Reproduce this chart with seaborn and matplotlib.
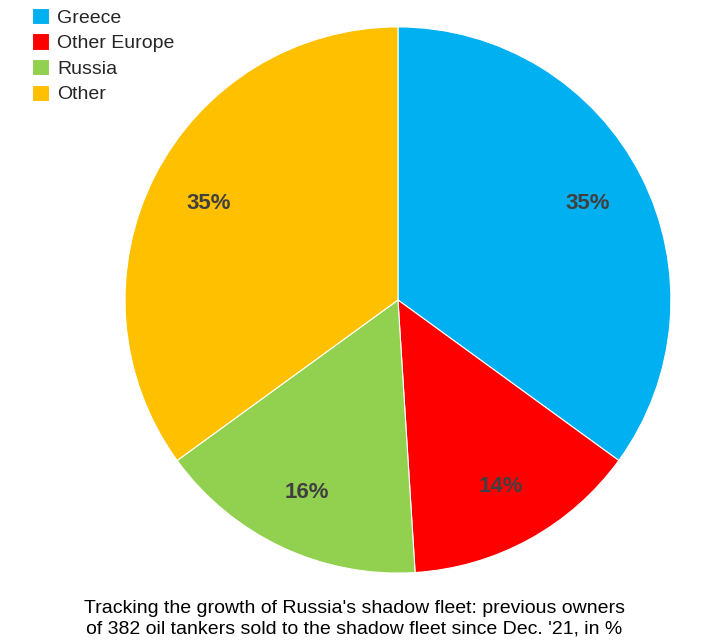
import matplotlib
matplotlib.use('Agg')
import matplotlib.pyplot as plt
import seaborn as sns

sns.set_theme(style='white')
plt.rcParams['font.family'] = ['Liberation Sans', 'DejaVu Sans']

owners = ['Greece', 'Other Europe', 'Russia', 'Other']
shares = [35, 14, 16, 35]
colors = ['#00B0F0', '#FF0000', '#92D050', '#FFC000']
caption = ("Tracking the growth of Russia's shadow fleet: previous owners\n"
           "of 382 oil tankers sold to the shadow fleet since Dec. '21, in %")

fig = plt.figure(figsize=(7.08, 6.41), dpi=100)
ax = fig.add_axes([0.1766, 0.106, 0.771, 0.852])
wedges, texts, autotexts = ax.pie(shares, colors=colors, startangle=90, counterclock=False,
                                  autopct='%d%%', pctdistance=0.78,
                                  wedgeprops=dict(edgecolor='white', linewidth=0.8),
                                  textprops=dict(fontsize=16, fontweight='bold', color='#404040'))
ax.set_aspect('auto')
ax.set_xlim(-1, 1)
ax.set_ylim(-1, 1)

fig.legend(wedges, owners, loc='upper left', bbox_to_anchor=(0.02, 1.015), frameon=False,
           fontsize=14, handlelength=0.9, handleheight=0.9, handletextpad=0.4, labelspacing=0.35)

fig.text(0.5, 0.035, caption, ha='center', va='center', fontsize=14, color='black', linespacing=1.3)

fig.savefig('out.png', dpi=100)
